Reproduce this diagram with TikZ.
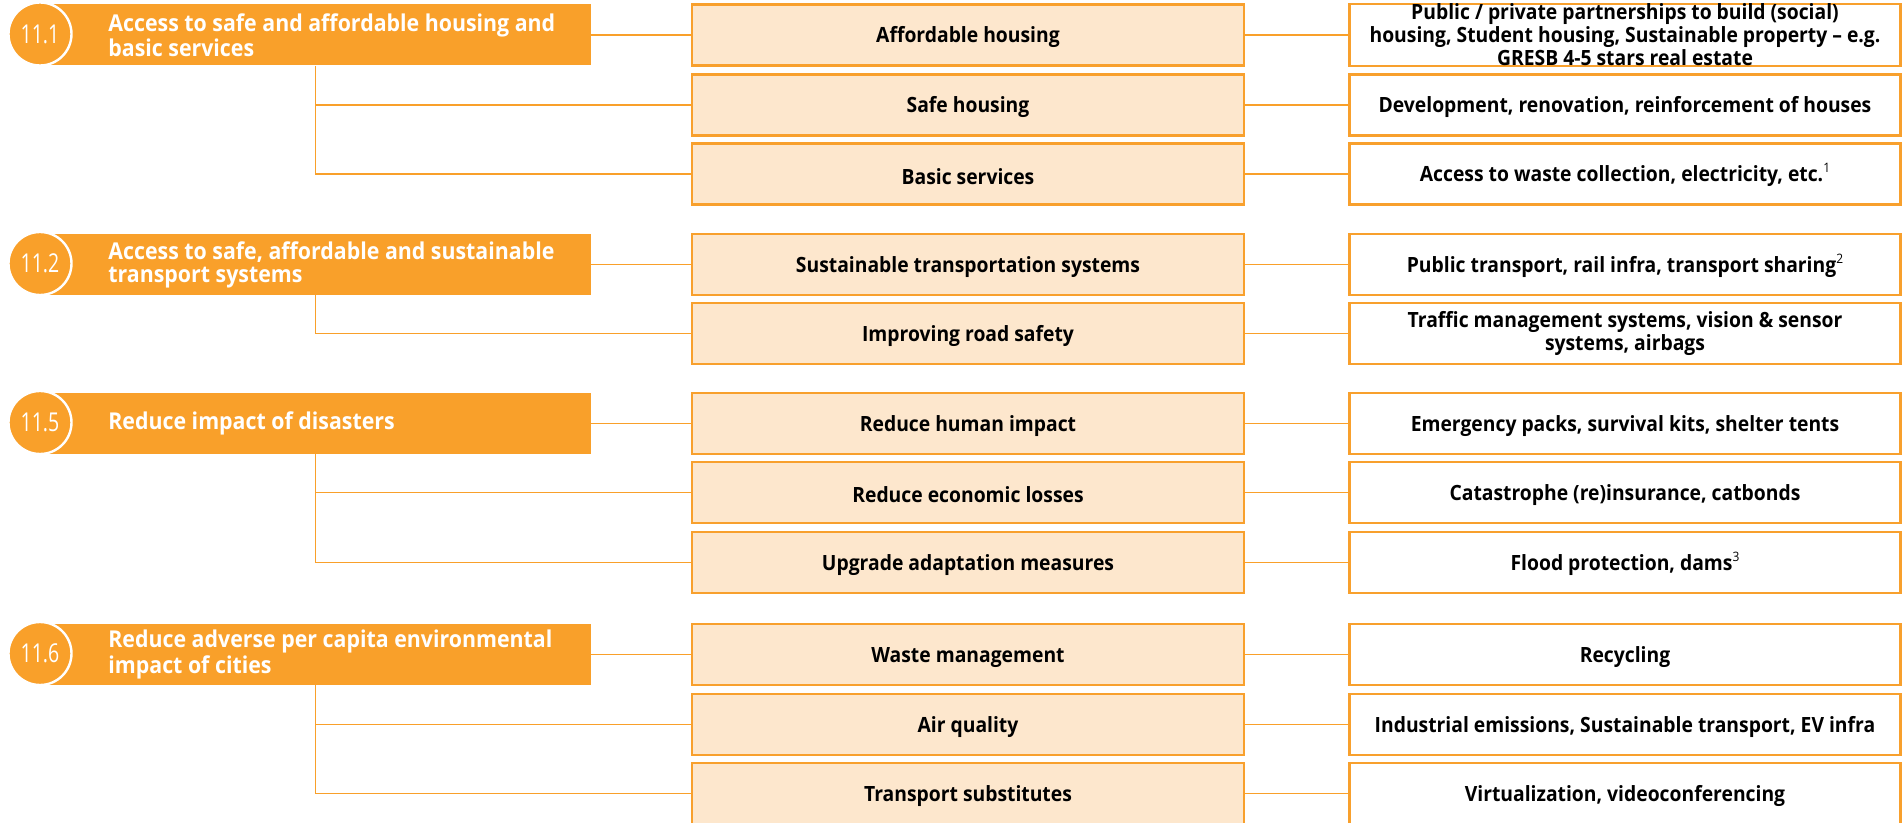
\documentclass[tikz,border=0pt]{standalone}
\usepackage{fontspec}
\setmainfont{Open Sans}[FakeStretch=0.92]
\newfontfamily\numfont{Open Sans}[FakeStretch=0.75]
\usetikzlibrary{positioning}

\definecolor{sdgorange}{RGB}{249,160,42}
\definecolor{rimorange}{RGB}{248,160,45}
\definecolor{peach}{RGB}{253,231,205}

\newcommand{\fnote}[1]{\raisebox{0.45em}{\fontsize{6.5}{6.5}\selectfont\mdseries #1}}

\begin{document}
\begin{tikzpicture}[x=0.5pt,y=-0.5pt,
  goalbar/.style={fill=sdgorange,minimum width=273pt,minimum height=30.5pt,inner sep=0pt},
  goalnum/.style={circle,fill=sdgorange,draw=white,line width=1.2pt,minimum size=31.5pt,inner sep=0pt,text=white,font=\numfont\fontsize{13}{13}\selectfont},
  goaltext/.style={anchor=west,align=left,text=white,inner sep=0pt,font=\bfseries\fontsize{11.6}{11.5}\selectfont},
  boxtext/.style={inner sep=0pt,align=center,font=\bfseries\fontsize{10.5}{10.25}\selectfont,
    execute at begin node={\rule{0pt}{10.5pt}}},
  areabox/.style={boxtext,draw=rimorange,line width=1.2pt,fill=peach,minimum width=276pt,minimum height=30.5pt},
  examplebox/.style={boxtext,draw=rimorange,line width=1.2pt,fill=white,minimum width=275.5pt,minimum height=30.5pt},
  link/.style={draw=sdgorange,line width=0.8pt}]
\useasboundingbox (0,0) rectangle (1903,823);

% 11.1 housing
\node[goalbar] (g1) at (318,35) {};
\node[goalnum] (n1) at (40,34) {11.1};
\node[goaltext] (t1) at (108,35) {Access to safe and affordable housing and\\basic services};
\node[areabox] (a1) at (968,35) {Affordable housing};
\node[areabox] (a2) at (968,105) {Safe housing};
\node[areabox] (a3) at (968,174) {Basic services};
\node[examplebox] (e1) at (1625,35) {Public / private partnerships to build (social)\\housing, Student housing, Sustainable property -- e.g.\\GRESB 4-5 stars real estate};
\node[examplebox] (e2) at (1625,105) {Development, renovation, reinforcement of houses};
\node[examplebox] (e3) at (1625,174) {Access to waste collection, electricity, etc.\fnote{1}};

% 11.2 transport
\node[goalbar] (g2) at (318,264.5) {};
\node[goalnum] (n2) at (40,263.5) {11.2};
\node[goaltext] (t2) at (108,264.5) {Access to safe, affordable and sustainable\\transport systems};
\node[areabox] (a4) at (968,264.5) {Sustainable transportation systems};
\node[areabox] (a5) at (968,333.5) {Improving road safety};
\node[examplebox] (e4) at (1625,264.5) {Public transport, rail infra, transport sharing\fnote{2}};
\node[examplebox] (e5) at (1625,333.5) {Traffic management systems, vision \& sensor\\systems, airbags};

% 11.5 disasters
\node[goalbar] (g3) at (318,423.5) {};
\node[goalnum] (n3) at (40,422.5) {11.5};
\node[goaltext] (t3) at (108,423.5) {Reduce impact of disasters};
\node[areabox] (a6) at (968,423.5) {Reduce human impact};
\node[areabox] (a7) at (968,492.5) {Reduce economic losses};
\node[areabox] (a8) at (968,562.5) {Upgrade adaptation measures};
\node[examplebox] (e6) at (1625,423.5) {Emergency packs, survival kits, shelter tents};
\node[examplebox] (e7) at (1625,492.5) {Catastrophe (re)insurance, catbonds};
\node[examplebox] (e8) at (1625,562.5) {Flood protection, dams\fnote{3}};

% 11.6 cities
\node[goalbar] (g4) at (318,654.5) {};
\node[goalnum] (n4) at (40,653.5) {11.6};
\node[goaltext] (t4) at (108,654.5) {Reduce adverse per capita environmental\\impact of cities};
\node[areabox] (a9) at (968,654.5) {Waste management};
\node[areabox] (a10) at (968,724.5) {Air quality};
\node[areabox] (a11) at (968,793.5) {Transport substitutes};
\node[examplebox] (e9) at (1625,654.5) {Recycling};
\node[examplebox] (e10) at (1625,724.5) {Industrial emissions, Sustainable transport, EV infra};
\node[examplebox] (e11) at (1625,793.5) {Virtualization, videoconferencing};

% connectors
\draw[link] (g1.east) -- (a1.west);
\draw[link] ([xshift=-1.2pt]g1.south) |- (a2.west);
\draw[link] ([xshift=-1.2pt]g1.south) |- (a3.west);
\draw[link] (g2.east) -- (a4.west);
\draw[link] ([xshift=-1.2pt]g2.south) |- (a5.west);
\draw[link] (g3.east) -- (a6.west);
\draw[link] ([xshift=-1.2pt]g3.south) |- (a7.west);
\draw[link] ([xshift=-1.2pt]g3.south) |- (a8.west);
\draw[link] (g4.east) -- (a9.west);
\draw[link] ([xshift=-1.2pt]g4.south) |- (a10.west);
\draw[link] ([xshift=-1.2pt]g4.south) |- (a11.west);

\draw[link] (a1.east) -- (e1.west);
\draw[link] (a2.east) -- (e2.west);
\draw[link] (a3.east) -- (e3.west);
\draw[link] (a4.east) -- (e4.west);
\draw[link] (a5.east) -- (e5.west);
\draw[link] (a6.east) -- (e6.west);
\draw[link] (a7.east) -- (e7.west);
\draw[link] (a8.east) -- (e8.west);
\draw[link] (a9.east) -- (e9.west);
\draw[link] (a10.east) -- (e10.west);
\draw[link] (a11.east) -- (e11.west);

\end{tikzpicture}
\end{document}
